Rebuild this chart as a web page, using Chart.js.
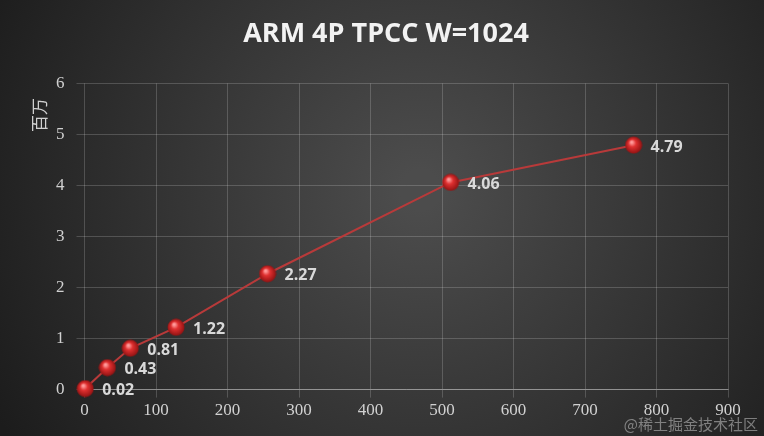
<!DOCTYPE html>
<html><head><meta charset="utf-8">
<script src="https://cdn.jsdelivr.net/npm/chart.js@4"></script>
<style>html,body{margin:0;padding:0;background:#2a2a2a}#w{width:764px;height:436px;position:relative}</style>
</head><body><div id="w"><canvas id="c" width="764" height="436"></canvas></div>
<script>
const threads = [1, 32, 64, 128, 256, 512, 768];
const tpmc = [0.02, 0.43, 0.81, 1.22, 2.27, 4.06, 4.79];
const xTicks = [0,100,200,300,400,500,600,700,800,900];
const yTicks = [0,1,2,3,4,5,6];

const bg = {id:'bg',beforeDraw(ch){const c=ch.ctx;const g=c.createRadialGradient(420,190,20,420,190,480);g.addColorStop(0,'#4c4c4c');g.addColorStop(1,'#1c1c1c');c.save();c.fillStyle=g;c.fillRect(0,0,ch.width,ch.height);c.restore();},
afterDraw(ch){const c=ch.ctx;c.save();c.font='15px "Noto Sans CJK SC"';c.fillStyle='rgba(200,200,200,0.55)';c.textAlign='right';c.textBaseline='alphabetic';c.fillText('@稀土掘金技术社区',758,430);
c.translate(40,115);c.rotate(-Math.PI/2);c.font='17px "Noto Sans CJK SC"';c.fillStyle='#d0d0d0';c.textAlign='center';c.textBaseline='middle';c.fillText('百万',0,0);c.restore();}};
const labels = {id:'lbl',afterDatasetsDraw(ch){const c=ch.ctx;const m=ch.getDatasetMeta(0);c.save();c.font='bold 16px "Open Sans"';c.fillStyle='#d9d9d9';c.textBaseline='middle';m.data.forEach((p,i)=>{c.fillText(tpmc[i].toFixed(2),p.x+17,p.y+2);});c.restore();}};
const ball = (()=>{const s=document.createElement('canvas');s.width=18;s.height=18;const c=s.getContext('2d');const g=c.createRadialGradient(7,6,1,9,9,9);g.addColorStop(0,'#ff9a9a');g.addColorStop(0.35,'#e03030');g.addColorStop(1,'#8a1010');c.fillStyle=g;c.beginPath();c.arc(9,9,8.5,0,Math.PI*2);c.fill();return s;})();

new Chart(document.getElementById('c'),{type:'scatter',
data:{datasets:[{data:threads.map((x,i)=>({x,y:tpmc[i]})),showLine:true,clip:false,borderColor:'#b83a3a',borderWidth:2,pointStyle:ball,pointRadius:9}]},
options:{responsive:false,animation:false,
layout:{padding:{left:44,right:36,top:10,bottom:12}},
plugins:{legend:{display:false},tooltip:{enabled:false},
title:{display:true,text:'ARM 4P TPCC W=1024',color:'#f2f2f2',font:{family:'Open Sans',size:27,weight:'bold'},padding:{top:8,bottom:33}}},
scales:{
x:{type:'linear',min:0,max:900,afterBuildTicks(a){a.ticks=xTicks.map(v=>({value:v}));},grid:{color:'rgba(255,255,255,0.18)'},border:{color:'rgba(255,255,255,0.35)'},ticks:{color:'#d0d0d0',font:{family:'Liberation Serif',size:17}}},
y:{min:0,max:6,afterBuildTicks(a){a.ticks=yTicks.map(v=>({value:v}));},grid:{color:'rgba(255,255,255,0.18)'},border:{display:false},ticks:{color:'#d0d0d0',padding:12,font:{family:'Liberation Serif',size:17}}}}},
plugins:[bg,labels]});
</script></body></html>
